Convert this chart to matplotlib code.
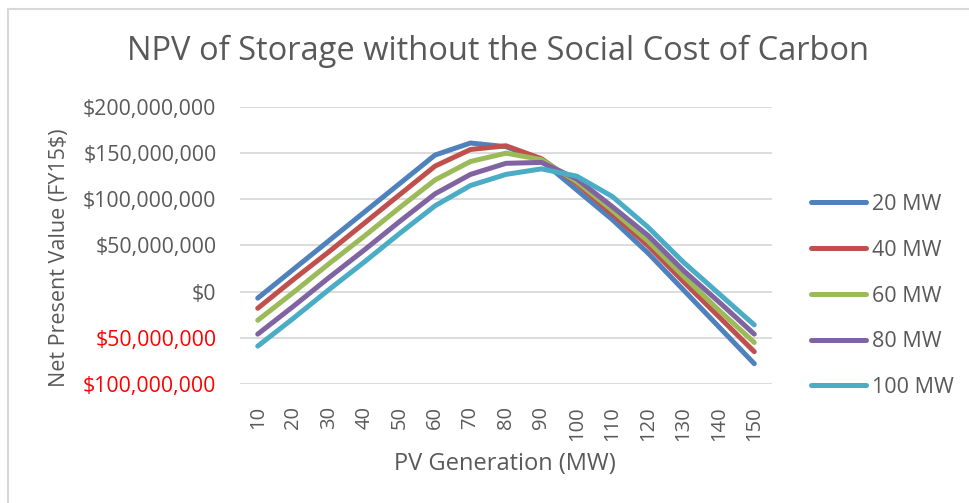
import numpy as np
import matplotlib
matplotlib.use("Agg")
import matplotlib.pyplot as plt
from matplotlib.ticker import FixedLocator, FuncFormatter
from matplotlib.lines import Line2D

# PV generation categories (MW)
pv_generation = [10, 20, 30, 40, 50, 60, 70, 80, 90, 100, 110, 120, 130, 140, 150]

# NPV in millions of FY15 dollars, one series per storage size
npv_20mw = [-7, 24, 55, 86, 117, 148, 161, 157, 142, 110, 78, 42, 2, -38, -78]
npv_40mw = [-18, 13, 43, 74, 105, 136, 154, 158, 144, 117, 84, 50, 11, -27, -65]
npv_60mw = [-31, -1, 30, 60, 91, 121, 141, 150, 143, 119, 88, 55, 17, -20, -55]
npv_80mw = [-46, -16, 15, 45, 76, 106, 127, 139, 140, 122, 92, 61, 23, -11, -46]
npv_100mw = [-59, -29, 2, 32, 63, 93, 115, 127, 133, 125, 103, 70, 32, -2, -36]

series_labels = ["20 MW", "40 MW", "60 MW", "80 MW", "100 MW"]
series_colors = ["#4F81BD", "#C0504D", "#9BBB59", "#8064A2", "#4BACC6"]
y_ticks = [-100, -50, 0, 50, 100, 150, 200]

TEXT = "#595959"
FONT = "Open Sans"

fig = plt.figure(figsize=(9.7, 5.03), dpi=100)
ax = fig.add_axes([240 / 970, 1 - 384 / 503, (772 - 240) / 970, (384 - 107) / 503])

# chart border (only top and left edges are visible in the original)
fig.add_artist(Line2D([8.5 / 970, 8.5 / 970], [0, 1 - 9 / 503], color="#D9D9D9", lw=1.5))
fig.add_artist(Line2D([8.5 / 970, 1], [1 - 9 / 503, 1 - 9 / 503], color="#D9D9D9", lw=1.5))

x_pos = np.arange(1, len(pv_generation) + 1)
all_series = [npv_20mw, npv_40mw, npv_60mw, npv_80mw, npv_100mw]
for values, label, color in zip(all_series, series_labels, series_colors):
    ax.plot(x_pos, values, color=color, lw=3.6, label=label,
            solid_capstyle="round", solid_joinstyle="round", zorder=3)

ax.set_xlim(0.5, len(pv_generation) + 0.5)
ax.set_ylim(-100, 200)

ax.yaxis.set_major_locator(FixedLocator(y_ticks))
ax.yaxis.set_major_formatter(FuncFormatter(lambda v, p: f"${abs(v) * 1e6:,.0f}"))
ax.set_xticks(x_pos)
ax.set_xticklabels([str(v) for v in pv_generation], rotation=90, va="top")

ax.grid(axis="y", color="#D9D9D9", lw=1.3, zorder=0)
ax.set_axisbelow(True)
for side in ["top", "right", "left", "bottom"]:
    ax.spines[side].set_visible(False)
ax.tick_params(axis="both", length=0, labelsize=14.5, colors=TEXT)
ax.tick_params(axis="y", labelsize=15.3, pad=17)
ax.tick_params(axis="x", pad=16)
for lbl in ax.get_yticklabels() + ax.get_xticklabels():
    lbl.set_fontfamily(FONT)
for lbl, v in zip(ax.get_yticklabels(), y_ticks):
    if v < 0:
        lbl.set_color("#FF0000")

fig.text(498 / 970, 1 - 51 / 503, "NPV of Storage without the Social Cost of Carbon",
         ha="center", va="center", fontsize=23.5, color=TEXT, family=FONT)
fig.text(60 / 970, 1 - 258 / 503, "Net Present Value (FY15$)", rotation=90,
         ha="center", va="center", fontsize=15.5, color=TEXT, family=FONT)
fig.text(505 / 970, 1 - 464 / 503, "PV Generation (MW)",
         ha="center", va="center", fontsize=17, color=TEXT, family=FONT)

leg = ax.legend(loc="center left", bbox_to_anchor=(792 / 970, 1 - 296 / 503),
                bbox_transform=fig.transFigure, frameon=False,
                prop={"family": FONT, "size": 15.5}, handlelength=2.55,
                handletextpad=0.25, labelspacing=1.15)
for t in leg.get_texts():
    t.set_color(TEXT)

fig.savefig("out.png", dpi=100, facecolor="white")
